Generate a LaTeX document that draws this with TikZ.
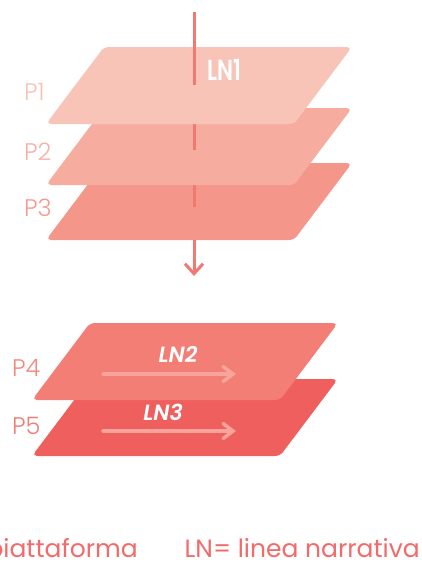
\documentclass[tikz,border=0pt]{standalone}
\usepackage{fontspec}
\setmainfont{Poppins}[UprightFont=* Light, BoldFont=* SemiBold, ItalicFont=* Light Italic, BoldItalicFont=* SemiBold Italic]
\newfontfamily\legendfont{Poppins}
\usetikzlibrary{arrows.meta}

\definecolor{planeA}{HTML}{F8C4B8}
\definecolor{planeB}{HTML}{F7ACA0}
\definecolor{planeC}{HTML}{F5968B}
\definecolor{planeD}{HTML}{F27E75}
\definecolor{planeE}{HTML}{EF5F5E}
\definecolor{axis}{HTML}{F07A72}
\definecolor{flow}{HTML}{F7A49A}
\definecolor{labA}{HTML}{F9C0B4}
\definecolor{labB}{HTML}{F8B0A4}
\definecolor{labC}{HTML}{F59A90}
\definecolor{labD}{HTML}{F38A80}
\definecolor{labE}{HTML}{F07C76}
\definecolor{legend}{HTML}{F26A6A}

\tikzset{
  plane/.style={rounded corners=5pt},
  axisline/.style={draw=axis, line width=3pt},
  flowarrow/.style={draw=flow, line width=3.5pt, line cap=round,
    -{Straight Barb[length=10pt,width=15pt,line cap=round]}},
  plabel/.style={font=\fontsize{24}{24}\selectfont, anchor=base west, inner sep=0pt},
  legendtext/.style={font=\legendfont\fontsize{25}{25}\selectfont, text=legend, anchor=base east, inner sep=0pt},
  lntitle/.style={text=white, inner sep=0pt, anchor=base},
}

% one plane: top edge at y=#2, horizontal shift #1
\newcommand{\planeshape}[3]{%
  \fill[plane, #3] (#1+104,#2) -- (#1+352,#2) -- (#1+294,#2+77) -- (#1+46,#2+77) -- cycle;}

\begin{document}
\begin{tikzpicture}[x=1pt, y=-1pt]
  \useasboundingbox (0,0) rectangle (422,565);

  % axis pieces: from the top of each plane down to where it pierces it
  \coordinate (top) at (194,12);
  \coordinate (pierce1) at (194,85);
  \coordinate (enter2) at (194,108);
  \coordinate (pierce2) at (194,150);
  \coordinate (enter3) at (194,163);
  \coordinate (pierce3) at (194,207);
  \coordinate (exit3) at (194,240);
  \coordinate (tip) at (194,276);

  % upper stack, back to front
  \planeshape{0}{163}{planeC}
  \draw[axisline] (enter3) -- (pierce3);
  \planeshape{0}{108}{planeB}
  \draw[axisline] (enter2) -- (pierce2);
  \planeshape{0}{47}{planeA}
  \draw[axisline] (top) -- (pierce1);
  \draw[axisline, -{Straight Barb[length=10pt,width=18pt]}] (exit3) -- (tip);

  \node[lntitle, font=\bfseries\fontsize{29}{29}\selectfont, xscale=0.75, transform shape] (ln1) at (224,80) {LN1};

  % lower stack
  \planeshape{-14}{379}{planeE}
  \planeshape{-14}{323}{planeD}

  \coordinate (s4) at (103,374);
  \coordinate (e4) at (236,374);
  \coordinate (s5) at (103,431);
  \coordinate (e5) at (236,431);
  \draw[flowarrow] (s4) -- (e4);
  \draw[flowarrow] (s5) -- (e5);

  \node[lntitle, font=\bfseries\itshape\fontsize{22}{22}\selectfont] (ln2) at (178,362) {LN2};
  \node[lntitle, font=\bfseries\itshape\fontsize{22}{22}\selectfont] (ln3) at (163,420) {LN3};

  % plane labels
  \node[plabel, text=labA] (p1) at (24,100) {P1};
  \node[plabel, text=labB] (p2) at (24,160) {P2};
  \node[plabel, text=labC] (p3) at (24,216) {P3};
  \node[plabel, text=labD] (p4) at (12,376) {P4};
  \node[plabel, text=labE] (p5) at (12,434) {P5};

  % legend
  \node[legendtext] (legP) at (138,557) {piattaforma};
  \node[legendtext] (legLN) at (420,557) {LN= linea narrativa};
\end{tikzpicture}
\end{document}
